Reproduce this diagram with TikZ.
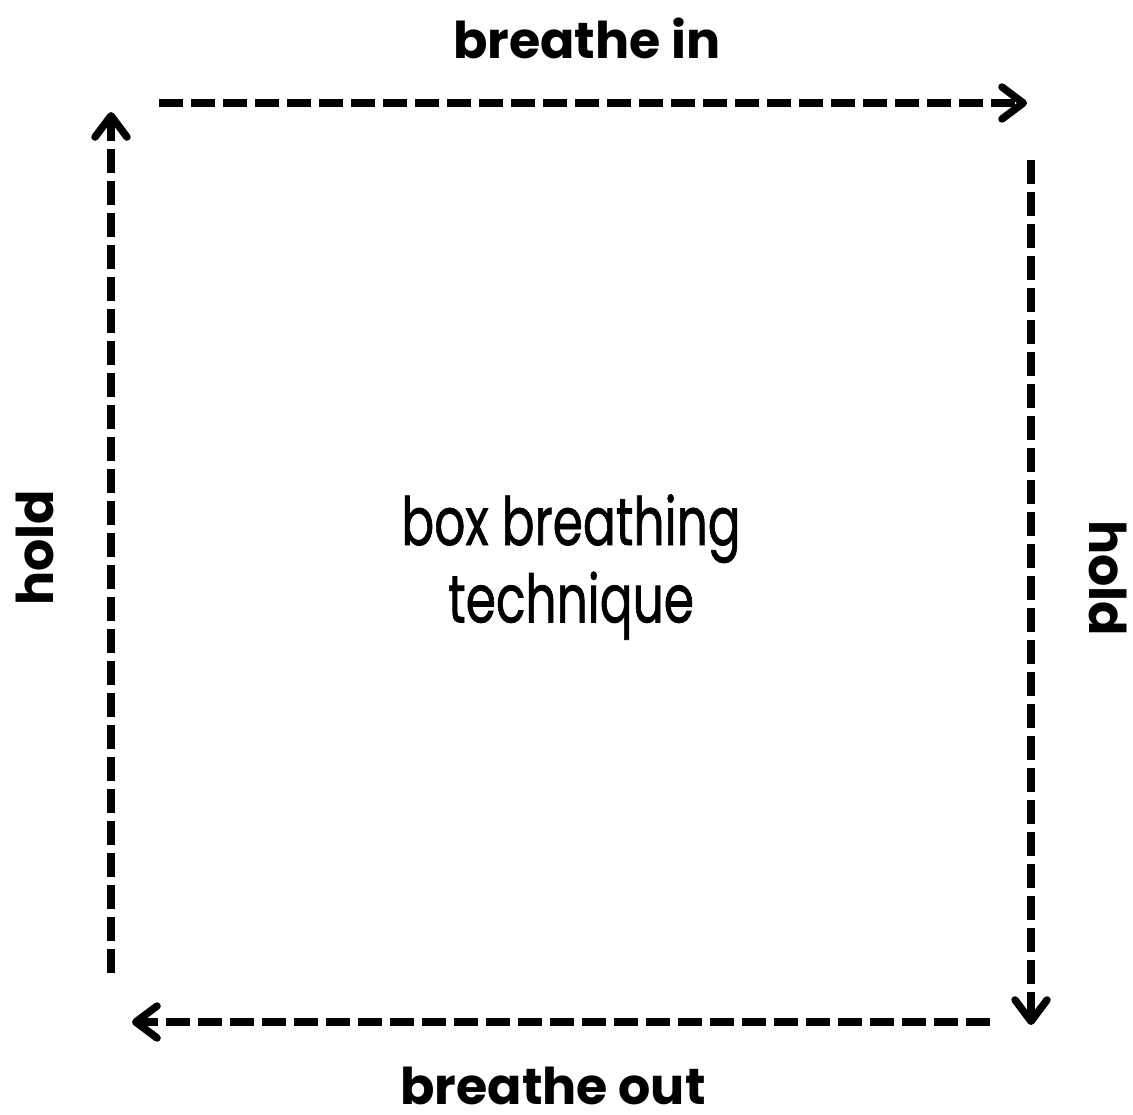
\documentclass[tikz,border=0pt]{standalone}
\usepackage{fontspec}
\setmainfont{Poppins}
\newfontfamily\headfont{Poppins}[UprightFont=* Bold]
\newfontfamily\handfont{Poppins}[FakeBold=1.2]
\usetikzlibrary{arrows.meta}
\tikzset{
  flow/.style={line width=5.6pt, dash pattern=on 18pt off 6pt,
    -{Straight Barb[length=16pt,width=24pt,line cap=round,line join=round]}},
  lbl/.style={font=\headfont\fontsize{38}{40}\selectfont, inner sep=0pt},
  title/.style={font=\handfont\fontsize{50}{58}\selectfont, align=center, inner sep=0pt, xscale=0.73, transform shape}
}
\begin{document}
\begin{tikzpicture}[x=0.75pt,y=-0.75pt]
\useasboundingbox (0,0) rectangle (1133,1115);
\coordinate (tS) at (159,103);
\coordinate (tE) at (1027,103);
\coordinate (rS) at (1031,160);
\coordinate (rE) at (1031,1025);
\coordinate (bS) at (990,1022);
\coordinate (bE) at (132,1022);
\coordinate (lS) at (111,973);
\coordinate (lE) at (111,112);
\draw[flow] (tS) -- (tE);
\draw[flow] (rS) -- (rE);
\draw[flow] (bS) -- (bE);
\draw[flow] (lS) -- (lE);
\node[lbl] (bin) at (587,38) {breathe in};
\node[lbl] (bout) at (553,1086) {breathe out};
\node[lbl, rotate=90] (hl) at (35,548) {hold};
\node[lbl, rotate=-90] (hr) at (1108,578) {hold};
\node[title] (t) at (571,567) {box breathing\\technique};
\end{tikzpicture}
\end{document}
